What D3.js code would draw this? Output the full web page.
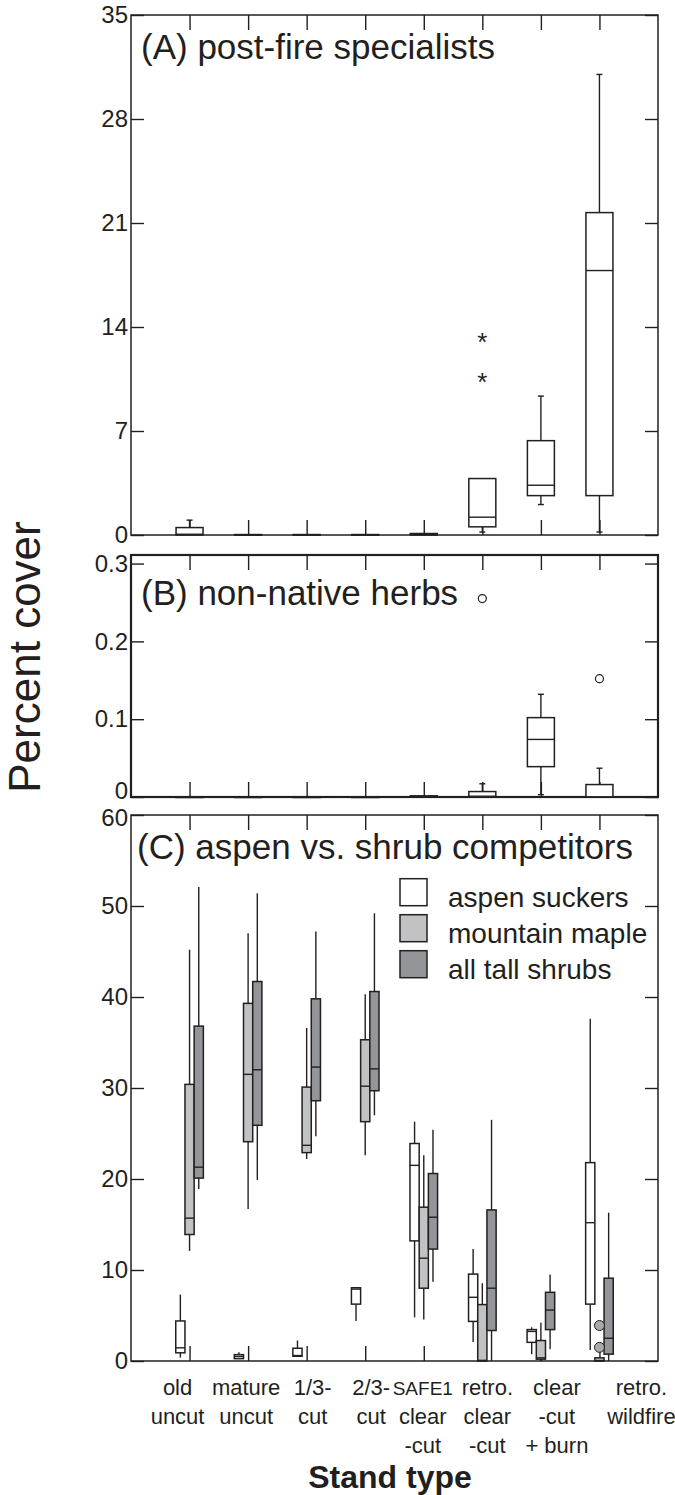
<!DOCTYPE html>
<html>
<head>
<meta charset="utf-8">
<script src="https://cdn.jsdelivr.net/npm/d3@7"></script>
<style>
  body { margin: 0; background: #fff; }
  svg text { font-family: "Liberation Sans", Arial, sans-serif; fill: #231f20; }
</style>
</head>
<body>
<svg id="chart" width="675" height="1495"></svg>
<script>
// stand types (x axis), one label line per entry
const standLabels = [
  ["old", "uncut"], ["mature", "uncut"], ["1/3-", "cut"], ["2/3-", "cut"],
  ["SAFE1", "clear", "-cut"], ["retro.", "clear", "-cut"], ["clear", "-cut", "+ burn"], ["retro.", "wildfire"]
];
const labelShift = [-12, -2, 6, 6, -1, 5, 16, 42];

// (A) post-fire specialists : [low, q1, median, q3, high]
const postFire = [
  [0, 0, 0.05, 0.5, 1.0],
  [0, 0, 0, 0.03, 0],
  [0, 0, 0, 0.03, 0],
  [0, 0, 0, 0.03, 0],
  [0, 0, 0.05, 0.1, 0.1],
  [0.2, 0.55, 1.2, 3.8, 3.8],
  [2.05, 2.65, 3.35, 6.35, 9.35],
  [0.2, 2.65, 17.8, 21.7, 31.0]
];
const postFireStars = [[5, 13.5], [5, 10.8]];

// (B) non-native herbs
const nonNative = [
  [0, 0, 0, 0, 0],
  [0, 0, 0, 0, 0],
  [0, 0, 0, 0, 0],
  [0, 0, 0, 0, 0],
  [0, 0, 0.0005, 0.0015, 0.0015],
  [0, 0, 0.001, 0.007, 0.017],
  [0.003, 0.039, 0.074, 0.102, 0.132],
  [0, 0, 0, 0.016, 0.037]
];
const nonNativeOutliers = [[5, 0.255], [7, 0.152]];

// (C) aspen vs shrub competitors
const series = ["aspen suckers", "mountain maple", "all tall shrubs"];
const seriesFill = ["#ffffff", "#c1c2c4", "#939598"];
const aspen = [
  [0.37, 0.9, 1.45, 4.4, 7.3],
  [0.26, 0.26, 0.5, 0.7, 0.95],
  [0.5, 0.52, 0.6, 1.4, 2.25],
  [4.4, 6.25, 7.9, 8.05, 8.05],
  [4.8, 13.2, 21.5, 23.9, 26.3],
  [2.1, 4.35, 7.0, 9.55, 12.3],
  [0.75, 2.05, 3.25, 3.45, 3.7],
  [1.2, 6.25, 15.2, 21.8, 37.6]
];
const maple = [
  [12.1, 13.9, 15.7, 30.4, 45.2],
  [16.7, 24.1, 31.5, 39.3, 47.0],
  [22.2, 22.9, 23.7, 30.1, 36.6],
  [22.6, 26.3, 30.2, 35.3, 40.3],
  [4.55, 8.0, 11.3, 16.9, 22.6],
  [0, 0, 0.07, 6.2, 8.55],
  [0, 0.2, 0.35, 2.25, 4.2],
  [0, 0, 0.05, 0.35, 0.35]
];
const shrubs = [
  [18.9, 20.1, 21.3, 36.8, 52.1],
  [19.9, 25.9, 32.0, 41.7, 51.4],
  [24.7, 28.6, 32.3, 39.8, 47.2],
  [27.0, 29.7, 32.1, 40.6, 49.2],
  [8.7, 12.3, 15.8, 20.6, 25.4],
  [0, 3.35, 8.0, 16.6, 26.5],
  [1.3, 3.45, 5.6, 7.55, 9.5],
  [0, 0.75, 2.5, 9.1, 16.3]
];
const mapleOutliers = [[7, 3.9], [7, 1.5]];

const ink = "#231f20";
const svg = d3.select("#chart");

const x = d3.scaleLinear().domain([0, 9]).range([131, 658]);
const groupPos = d3.range(1, 9);

const yA = d3.scaleLinear().domain([0, 35]).range([535, 15]);
const yB = d3.scaleLinear().domain([0, 0.311]).range([797, 555]);
const yC = d3.scaleLinear().domain([0, 60]).range([1361, 815]);

function frame(y, ticks, fmt, width) {
  const g = svg.append("g");
  const [y0, y1] = y.range();
  g.append("g").attr("class", "yleft").attr("transform", `translate(${x(0)},0)`)
    .call(d3.axisLeft(y).tickValues(ticks).tickSize(-13).tickPadding(3).tickFormat(fmt));
  g.append("g").attr("transform", `translate(${x(9)},0)`)
    .call(d3.axisRight(y).tickValues(ticks).tickSize(-13).tickFormat(""));
  g.append("g").attr("transform", `translate(0,${y1})`)
    .call(d3.axisTop(x).tickValues(groupPos).tickSize(-15).tickFormat(""));
  g.append("g").attr("transform", `translate(0,${y0})`)
    .call(d3.axisBottom(x).tickValues(groupPos).tickSize(-15).tickFormat(""));
  g.selectAll(".domain").remove();
  g.selectAll(".tick line").attr("stroke", ink).attr("stroke-width", 1.4);
  g.selectAll(".tick text").style("font-size", "24px").attr("fill", ink);
  g.append("rect")
    .attr("x", x(0)).attr("y", y1)
    .attr("width", x(9) - x(0)).attr("height", y0 - y1)
    .attr("fill", "none").attr("stroke", ink).attr("stroke-width", width);
  return g;
}

function boxes(g, data, y, dx, w, fill, caps) {
  data.forEach((s, i) => {
    const cx = x(i + 1) + dx;
    const [lo, q1, med, q3, hi] = s;
    const line = (x1, y1, x2, y2) => g.append("line")
      .attr("x1", x1).attr("y1", y1).attr("x2", x2).attr("y2", y2)
      .attr("stroke", ink).attr("stroke-width", 1.4);
    if (hi > q3) {
      line(cx, y(q3), cx, y(hi));
      if (caps) line(cx - 3, y(hi), cx + 3, y(hi));
    }
    if (lo < q1) {
      line(cx, y(q1), cx, y(lo));
      if (caps) line(cx - 3, y(lo), cx + 3, y(lo));
    }
    g.append("rect")
      .attr("x", cx - w / 2).attr("y", y(q3))
      .attr("width", w).attr("height", Math.max(y(q1) - y(q3), 0.5))
      .attr("fill", fill).attr("stroke", ink).attr("stroke-width", 1.5);
    line(cx - w / 2, y(med), cx + w / 2, y(med));
  });
}

// (A)
const gA = frame(yA, [0, 7, 14, 21, 28, 35], d3.format("d"), 1.5);
boxes(gA, postFire, yA, 0, 27, "#fff", true);
gA.selectAll(".star").data(postFireStars).enter().append("text")
  .attr("x", d => x(d[0] + 1)).attr("y", d => yA(d[1]))
  .attr("dy", "0.62em").attr("text-anchor", "middle")
  .style("font-size", "26px").text("*");
gA.append("text").attr("x", 141).attr("y", 59).style("font-size", "35px")
  .text("(A) post-fire specialists");

// (B)
const gB = frame(yB, [0, 0.1, 0.2, 0.3], d => d === 0 ? "0" : d3.format(".1f")(d), 2.2);
gB.selectAll(".yleft .tick text").filter(d => d === 0).attr("dy", "0.05em");
boxes(gB, nonNative, yB, 0, 27, "#fff", true);
gB.selectAll(".out").data(nonNativeOutliers).enter().append("circle")
  .attr("cx", d => x(d[0] + 1)).attr("cy", d => yB(d[1])).attr("r", 4)
  .attr("fill", "#fff").attr("stroke", ink).attr("stroke-width", 1.2);
gB.append("text").attr("x", 141).attr("y", 605).style("font-size", "35px")
  .text("(B) non-native herbs");

// (C)
const gC = frame(yC, [0, 10, 20, 30, 40, 50, 60], d3.format("d"), 1.5);
gC.selectAll(".yleft .tick text").filter(d => d === 60).attr("dy", "0.45em");
const bw = 9.2;
[aspen, maple, shrubs].forEach((d, k) => boxes(gC, d, yC, (k - 1) * bw, bw, seriesFill[k], false));
gC.selectAll(".out").data(mapleOutliers).enter().append("circle")
  .attr("cx", d => x(d[0] + 1)).attr("cy", d => yC(d[1])).attr("r", 5)
  .attr("fill", "#a7a9ac").attr("stroke", ink).attr("stroke-width", 1);
gC.append("text").attr("x", 137).attr("y", 859).style("font-size", "35px")
  .text("(C) aspen vs. shrub competitors");

const legend = gC.selectAll(".leg").data(series).enter().append("g")
  .attr("transform", (d, i) => `translate(400,${yC(53) + i * 36})`);
legend.append("rect").attr("width", 27).attr("height", 27)
  .attr("fill", (d, i) => seriesFill[i]).attr("stroke", ink).attr("stroke-width", 1.5);
legend.append("text").attr("x", 48).attr("y", 28).style("font-size", "28px").text(d => d);

// x labels
const lab = svg.append("g").selectAll("text").data(standLabels).enter().append("text")
  .attr("text-anchor", "middle")
  .attr("transform", (d, i) => `translate(${x(i + 1) + labelShift[i]},1395)`)
  .style("font-size", "22px");
lab.selectAll("tspan").data(d => d).enter().append("tspan")
  .attr("x", 0).attr("y", (d, j) => j * 29)
  .style("font-size", d => d === "SAFE1" ? "19px" : null)
  .text(d => d);

svg.append("text").attr("x", 390).attr("y", 1488).attr("text-anchor", "middle")
  .style("font-size", "32px").style("font-weight", "bold").text("Stand type");

svg.append("text")
  .attr("transform", "translate(40,657) rotate(-90)")
  .attr("text-anchor", "middle").style("font-size", "44px").text("Percent cover");
</script>
</body>
</html>
